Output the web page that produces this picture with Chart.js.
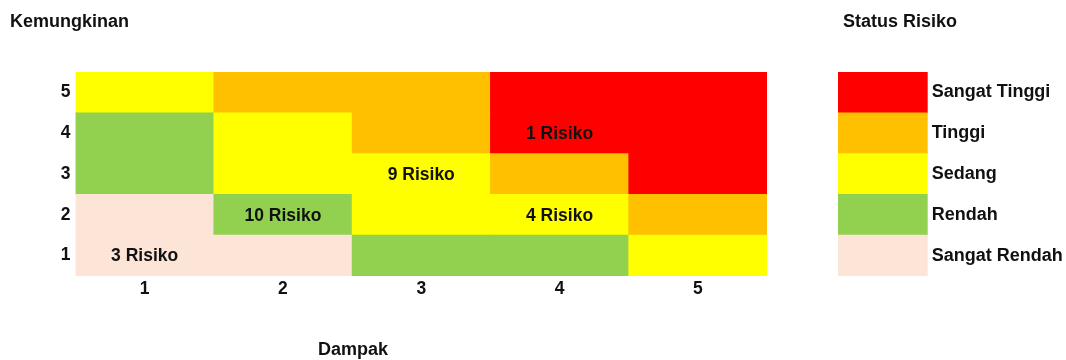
<!DOCTYPE html>
<html>
<head>
<meta charset="utf-8">
<script src="https://cdn.jsdelivr.net/npm/chart.js@4/dist/chart.umd.min.js"></script>
<style>
  html, body { margin: 0; padding: 0; background: #fff; }
  #wrap { position: relative; width: 1066px; height: 360px; }
  #matriks { position: absolute; left: 0; top: 0; }
  #legenda { position: absolute; left: 838px; top: 0; }
</style>
</head>
<body>
<div id="wrap">
  <canvas id="matriks" width="1066" height="360"></canvas>
  <canvas id="legenda" width="228" height="360"></canvas>
</div>
<script>
// sumbu
const dampak = ["1", "2", "3", "4", "5"];
const kemungkinan = [1, 2, 3, 4, 5];

// status risiko (1 = Sangat Rendah ... 5 = Sangat Tinggi)
const statusLabel = ["Sangat Rendah", "Rendah", "Sedang", "Tinggi", "Sangat Tinggi"];
const statusWarna = ["#FCE4D6", "#92D050", "#FFFF00", "#FFC000", "#FF0000"];

// level tiap sel, per baris kemungkinan 1..5, kolom dampak 1..5
const level1 = [1, 1, 2, 2, 3];
const level2 = [1, 2, 3, 3, 4];
const level3 = [2, 3, 3, 4, 5];
const level4 = [2, 3, 4, 5, 5];
const level5 = [3, 4, 4, 5, 5];
const levels = [level1, level2, level3, level4, level5];

// jumlah risiko tiap sel
const jumlah1 = [3, 0, 0, 0, 0];
const jumlah2 = [0, 10, 0, 4, 0];
const jumlah3 = [0, 0, 9, 0, 0];
const jumlah4 = [0, 0, 0, 1, 0];
const jumlah5 = [0, 0, 0, 0, 0];
const jumlah = [jumlah1, jumlah2, jumlah3, jumlah4, jumlah5];

const FONT = "'Liberation Sans', Arial, sans-serif";
const hitam = "#111";

const datasets = kemungkinan.map((k, i) => ({
  data: dampak.map(() => [k - 0.5, k + 0.5]),
  backgroundColor: levels[i].map((l) => statusWarna[l - 1]),
  borderWidth: 0,
  grouped: false,
  barPercentage: 1,
  categoryPercentage: 1,
}));

const teksPlugin = {
  id: "teks",
  afterDatasetsDraw(chart) {
    const ctx = chart.ctx;
    const x = chart.scales.x;
    const y = chart.scales.y;
    ctx.save();
    ctx.fillStyle = hitam;
    ctx.font = "bold 17.5px " + FONT;
    ctx.textAlign = "center";
    ctx.textBaseline = "middle";
    kemungkinan.forEach((k, i) => {
      jumlah[i].forEach((n, j) => {
        if (n > 0) {
          ctx.fillText(n + " Risiko", x.getPixelForValue(j), y.getPixelForValue(k) + 1);
        }
      });
    });
    ctx.font = "bold 18px " + FONT;
    ctx.textAlign = "left";
    ctx.textBaseline = "alphabetic";
    ctx.fillText("Kemungkinan", 10, 27);
    ctx.fillText("Status Risiko", 843, 27);
    ctx.fillText("Dampak", 318, 355);
    ctx.restore();
  },
};

new Chart(document.getElementById("matriks"), {
  type: "bar",
  data: { labels: dampak, datasets: datasets },
  options: {
    responsive: false,
    animation: false,
    layout: { padding: { top: 72, right: 299, left: 0, bottom: 0 } },
    plugins: { legend: { display: false }, tooltip: { enabled: false } },
    scales: {
      x: {
        grid: { display: false, drawTicks: false },
        border: { display: false },
        ticks: { color: hitam, font: { family: FONT, size: 17.5, weight: "bold" }, padding: 3 },
        afterFit(s) { s.height = 84; },
      },
      y: {
        min: 0.5,
        max: 5.5,
        grid: { display: false, drawTicks: false },
        border: { display: false },
        afterBuildTicks(s) { s.ticks = kemungkinan.map((v) => ({ value: v })); },
        ticks: { color: hitam, font: { family: FONT, size: 17.5, weight: "bold" }, padding: 5 },
        afterFit(s) { s.width = 75.5; },
      },
    },
  },
  plugins: [teksPlugin],
});

// legenda status risiko
new Chart(document.getElementById("legenda"), {
  type: "bar",
  data: {
    labels: ["Status"],
    datasets: statusLabel.map((s, i) => ({
      data: [[i + 0.5, i + 1.5]],
      backgroundColor: statusWarna[i],
      borderWidth: 0,
      grouped: false,
      barPercentage: 1,
      categoryPercentage: 1,
    })),
  },
  options: {
    responsive: false,
    animation: false,
    layout: { padding: { top: 72, right: 0, left: 0, bottom: 0 } },
    plugins: { legend: { display: false }, tooltip: { enabled: false } },
    scales: {
      x: {
        ticks: { display: false },
        grid: { display: false, drawTicks: false },
        border: { display: false },
        afterFit(s) { s.height = 84; },
      },
      y: {
        position: "right",
        min: 0.5,
        max: 5.5,
        grid: { display: false, drawTicks: false },
        border: { display: false },
        afterBuildTicks(s) { s.ticks = kemungkinan.map((v) => ({ value: v })); },
        ticks: {
          color: hitam,
          font: { family: FONT, size: 18, weight: "bold" },
          padding: 4,
          callback: (v) => statusLabel[v - 1],
        },
        afterFit(s) { s.width = 138.3; },
      },
    },
  },
});
</script>
</body>
</html>
